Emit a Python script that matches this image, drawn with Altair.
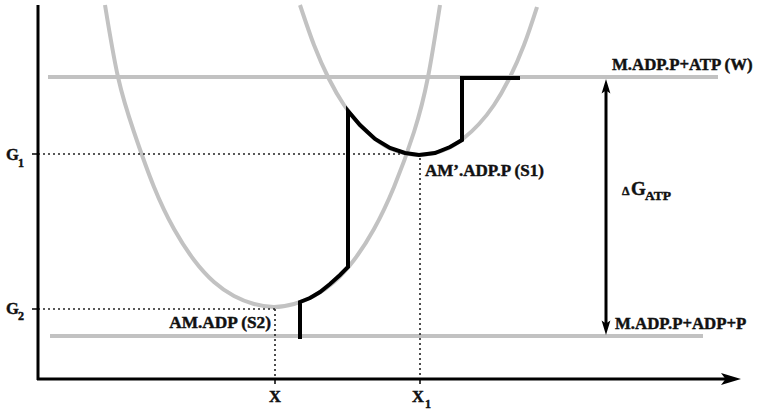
import altair as alt
import pandas as pd

W, H = 758, 410

# Free-energy curves (x = reaction coordinate, y = screen-like energy units, down = lower G)
s2_x = [105, 118, 134, 154, 174, 194, 214, 234, 254, 274, 294, 314, 334, 354, 374, 394, 414, 428, 440]
s2_y = [5, 77, 132, 187, 229, 260, 282, 296, 304, 307, 304, 296, 282, 260, 229, 187, 132, 77, 5]
s1_x = [300, 314, 329, 344, 359, 374, 389, 404, 419, 434, 449, 464, 479, 494, 509, 524, 537]
s1_y = [5, 45, 79, 105, 124, 138, 148, 153, 155, 153, 148, 138, 124, 105, 79, 45, 7]

# Reaction path (black)
path_x = [300, 300, 310, 320, 330, 340, 348, 348, 360, 375, 390, 405, 419, 435, 450, 462, 462, 520]
path_y = [339, 302, 298, 292, 284, 275, 267, 111, 125, 139, 148, 153, 155, 153, 147, 140, 78, 78]

# Levels
level_names = ["W", "P"]
level_y = [77, 336]
level_x0 = [48, 50]
level_x1 = [718, 703]

g1_y, g2_y = 154, 309
x_pos, x1_pos = 275, 420

xs = alt.Scale(domain=[0, W], nice=False, zero=False)
ys = alt.Scale(domain=[0, H], nice=False, zero=False, reverse=True)

def X(f="x"):
    return alt.X(f, type="quantitative", scale=xs, axis=None)

def Y(f="y"):
    return alt.Y(f, type="quantitative", scale=ys, axis=None)

curves = pd.DataFrame(
    [{"curve": "S2", "i": i, "x": a, "y": b} for i, (a, b) in enumerate(zip(s2_x, s2_y))]
    + [{"curve": "S1", "i": i, "x": a, "y": b} for i, (a, b) in enumerate(zip(s1_x, s1_y))]
)
gray_curves = alt.Chart(curves).mark_line(
    color="#c2c2c2", strokeWidth=4, interpolate="natural", clip=True
).encode(x=X(), y=Y(), detail="curve:N", order="i:Q")

levels = pd.DataFrame({"name": level_names, "x": level_x0, "x2": level_x1, "y": level_y})
gray_levels = alt.Chart(levels).mark_rule(color="#c2c2c2", strokeWidth=4).encode(
    x=X(), x2="x2", y=Y()
)

path = pd.DataFrame({"i": range(len(path_x)), "x": path_x, "y": path_y})
black_path = alt.Chart(path).mark_line(
    color="black", strokeWidth=4, strokeJoin="miter", strokeCap="butt"
).encode(x=X(), y=Y(), order="i:Q")

dotted = pd.DataFrame({
    "x": [38, x1_pos, 38, x_pos],
    "x2": [400, x1_pos, x_pos, x_pos],
    "y": [g1_y, 158, g2_y, g2_y],
    "y2": [g1_y, 379, g2_y, 379],
})
dotted_lines = alt.Chart(dotted).mark_rule(
    color="#222222", strokeWidth=1.6, strokeDash=[2, 3]
).encode(x=X(), x2="x2", y=Y(), y2="y2")

axes = pd.DataFrame({
    "x": [38, 37, 32, 32, x_pos, x1_pos],
    "x2": [38, 728, 38, 38, x_pos, x1_pos],
    "y": [5, 379, g1_y, g2_y, 379, 379],
    "y2": [380, 379, g1_y, g2_y, 384, 384],
    "w": [3, 3, 1.5, 1.5, 1.5, 1.5],
})
axis_lines = alt.Chart(axes).mark_rule(color="black").encode(
    x=X(), x2="x2", y=Y(), y2="y2", strokeWidth=alt.StrokeWidth("w:Q", scale=None)
)

x_arrow = alt.Chart(pd.DataFrame({"x": [731], "y": [379]})).mark_point(
    shape="M1,0 L-1,-0.6 L-0.55,0 L-1,0.6 Z", size=400, filled=True, color="black", opacity=1
).encode(x=X(), y=Y())

# Delta G double arrow
dg = alt.Chart(pd.DataFrame({"x": [606], "y": [88], "y2": [326]})).mark_rule(
    color="black", strokeWidth=3
).encode(x=X(), y=Y(), y2="y2")
up_head = alt.Chart(pd.DataFrame({"x": [606], "y": [87]})).mark_point(
    shape="M0,-1 L0.55,0.8 L0,0.45 L-0.55,0.8 Z", size=256, filled=True, color="black", opacity=1
).encode(x=X(), y=Y())
down_head = alt.Chart(pd.DataFrame({"x": [606], "y": [327]})).mark_point(
    shape="M0,1 L0.55,-0.8 L0,-0.45 L-0.55,-0.8 Z", size=256, filled=True, color="black", opacity=1
).encode(x=X(), y=Y())

FONT = "Liberation Serif, Times New Roman, serif"
INK = "#111111"
TXT = dict(font=FONT, fontWeight="bold", color=INK, stroke=INK, strokeWidth=0.45)

left_labels = pd.DataFrame({
    "x": [612, 615, 425, 6, 6, 631],
    "y": [70, 329, 176, 160, 314, 195],
    "text": ["M.ADP.P+ATP (W)", "M.ADP.P+ADP+P", "AM\u2019.ADP.P (S1)", "G", "G", "G"],
    "size": [16.8, 16.8, 17, 16.5, 16.5, 19],
})
left_text = alt.Chart(left_labels).mark_text(
    align="left", baseline="alphabetic", **TXT
).encode(x=X(), y=Y(), text="text:N", size=alt.Size("size:Q", scale=None))

sub_labels = pd.DataFrame({
    "x": [18, 18, 645, 425, 622],
    "y": [167, 320, 200, 408, 195],
    "text": ["1", "2", "ATP", "1", "\u0394"],
    "size": [12, 12, 13.5, 12, 12],
})
sub_text = alt.Chart(sub_labels).mark_text(
    align="left", baseline="alphabetic", **TXT
).encode(x=X(), y=Y(), text="text:N", size=alt.Size("size:Q", scale=None))

right_text = alt.Chart(pd.DataFrame({"x": [271], "y": [328], "text": ["AM.ADP (S2)"]})).mark_text(
    align="right", baseline="alphabetic", fontSize=17.3, **TXT
).encode(x=X(), y=Y(), text="text:N")

x_labels = pd.DataFrame({"x": [x_pos, 418], "y": [402, 402], "text": ["X", "X"]})
center_text = alt.Chart(x_labels).mark_text(
    align="center", baseline="alphabetic", fontSize=16.5, **TXT
).encode(x=X(), y=Y(), text="text:N")

chart = alt.layer(
    gray_levels, gray_curves, dotted_lines, black_path, axis_lines, x_arrow,
    dg, up_head, down_head, left_text, sub_text, right_text, center_text,
).properties(
    width=W, height=H, autosize=alt.AutoSizeParams(type="none"), padding=0,
    background="white",
).configure_view(stroke=None)

chart.save("out.html", embed_options={"renderer": "svg", "actions": False})
